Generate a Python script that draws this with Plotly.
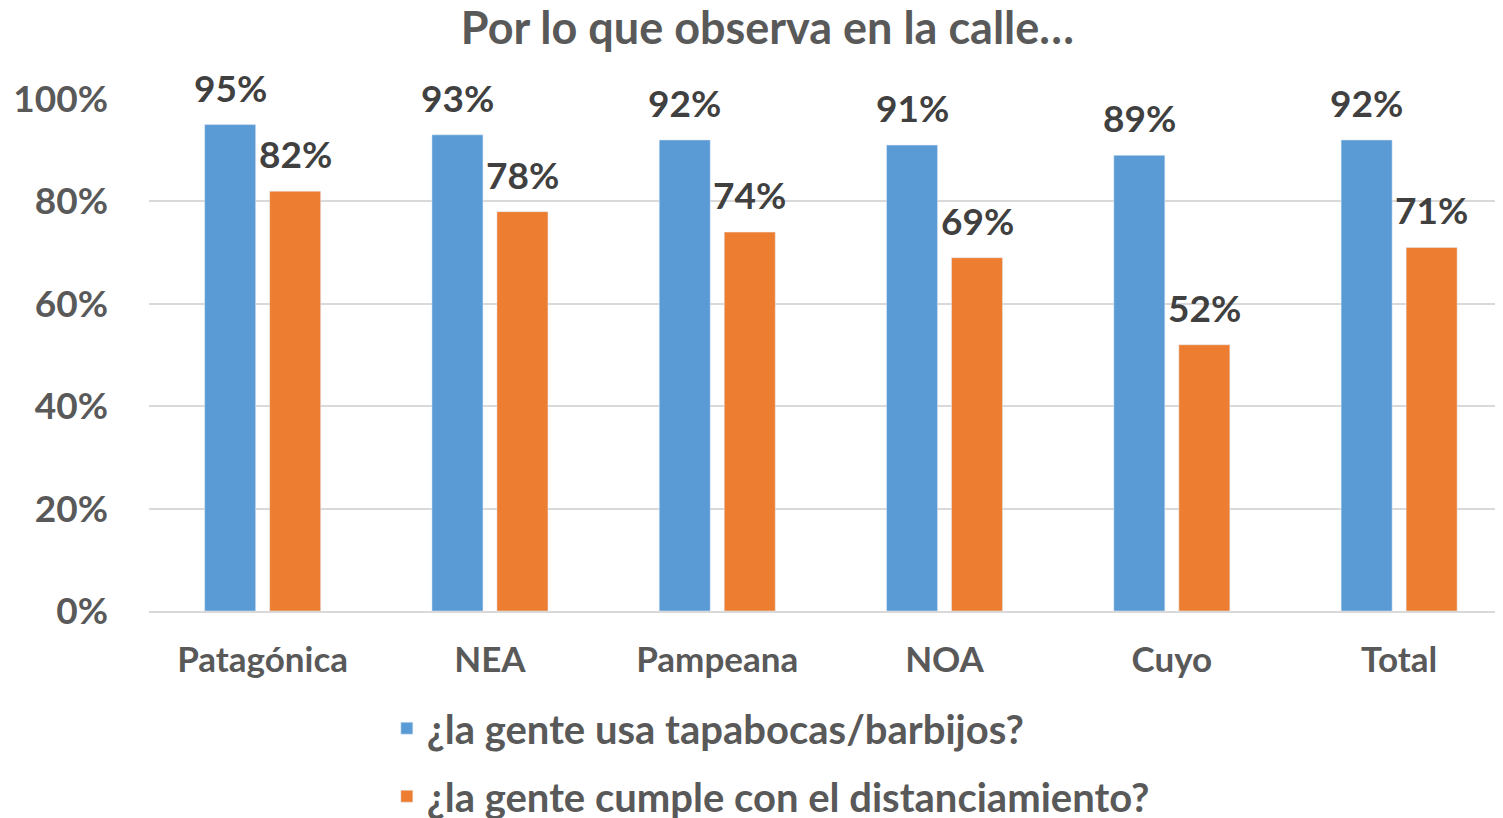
import plotly.graph_objects as go

categories = ["Patagónica", "NEA", "Pampeana", "NOA", "Cuyo", "Total"]
tapabocas = [95, 93, 92, 91, 89, 92]
distanciamiento = [82, 78, 74, 69, 52, 71]
series_names = ["¿la gente usa tapabocas/barbijos?", "¿la gente cumple con el distanciamiento?"]
tick_vals = [0, 20, 40, 60, 80, 100]
tick_text = ["0%", "20%", "40%", "60%", "80%", "100%"]
title_text = "Por lo que observa en la calle…"

BLUE = "#5B9BD5"
ORANGE = "#ED7D31"
FONT = "Lato"

fig = go.Figure()
fig.add_trace(go.Bar(x=categories, y=tapabocas, name=series_names[0], marker_color=BLUE,
                     legendgroup="a"))
fig.add_trace(go.Bar(x=categories, y=distanciamiento, name=series_names[1], marker_color=ORANGE,
                     legendgroup="b"))

annotations = []
for vals, shift in ((tapabocas, -32.5), (distanciamiento, 32.5)):
    for c, v in zip(categories, vals):
        annotations.append(dict(
            x=c, y=v, text=f"{v}%", showarrow=False, xref="x", yref="y",
            yanchor="bottom", yshift=13, xshift=shift,
            font=dict(family=FONT, size=37, color="#404040", weight="bold"),
        ))

fig.update_layout(
    width=1495, height=810,
    margin=dict(l=141, r=0, t=91, b=207, autoexpand=False),
    paper_bgcolor="white", plot_bgcolor="white",
    barmode="group", bargap=0.428, bargroupgap=0.215,
    title=dict(text=title_text, x=0.508, xanchor="center", xref="container",
               y=0.9753, yanchor="middle", yref="container",
               font=dict(family=FONT, size=45, color="#595959", weight="bold")),
    font=dict(family=FONT, color="#595959"),
    annotations=annotations,
    legend=dict(orientation="v", x=0.2534, xanchor="left", xref="container",
                y=0.151, yanchor="top", yref="container",
                font=dict(family=FONT, size=40, color="#595959", weight="bold"),
                itemwidth=30, tracegroupgap=13),
    showlegend=True,
)
fig.update_xaxes(range=[-0.5, 5.457], showgrid=False, showline=True, linecolor="#D9D9D9",
                 linewidth=1.5, ticks="", automargin=False,
                 tickfont=dict(family=FONT, size=35, color="#595959", weight="bold"),
                 ticklabelstandoff=17)
fig.update_yaxes(range=[0, 100], tickvals=tick_vals, ticktext=tick_text, showgrid=True,
                 gridcolor="#D9D9D9", gridwidth=1.5, zeroline=False, ticks="", automargin=False,
                 tickfont=dict(family=FONT, size=37, color="#595959", weight="bold"),
                 ticklabelstandoff=40)

fig.write_html("out.html")
